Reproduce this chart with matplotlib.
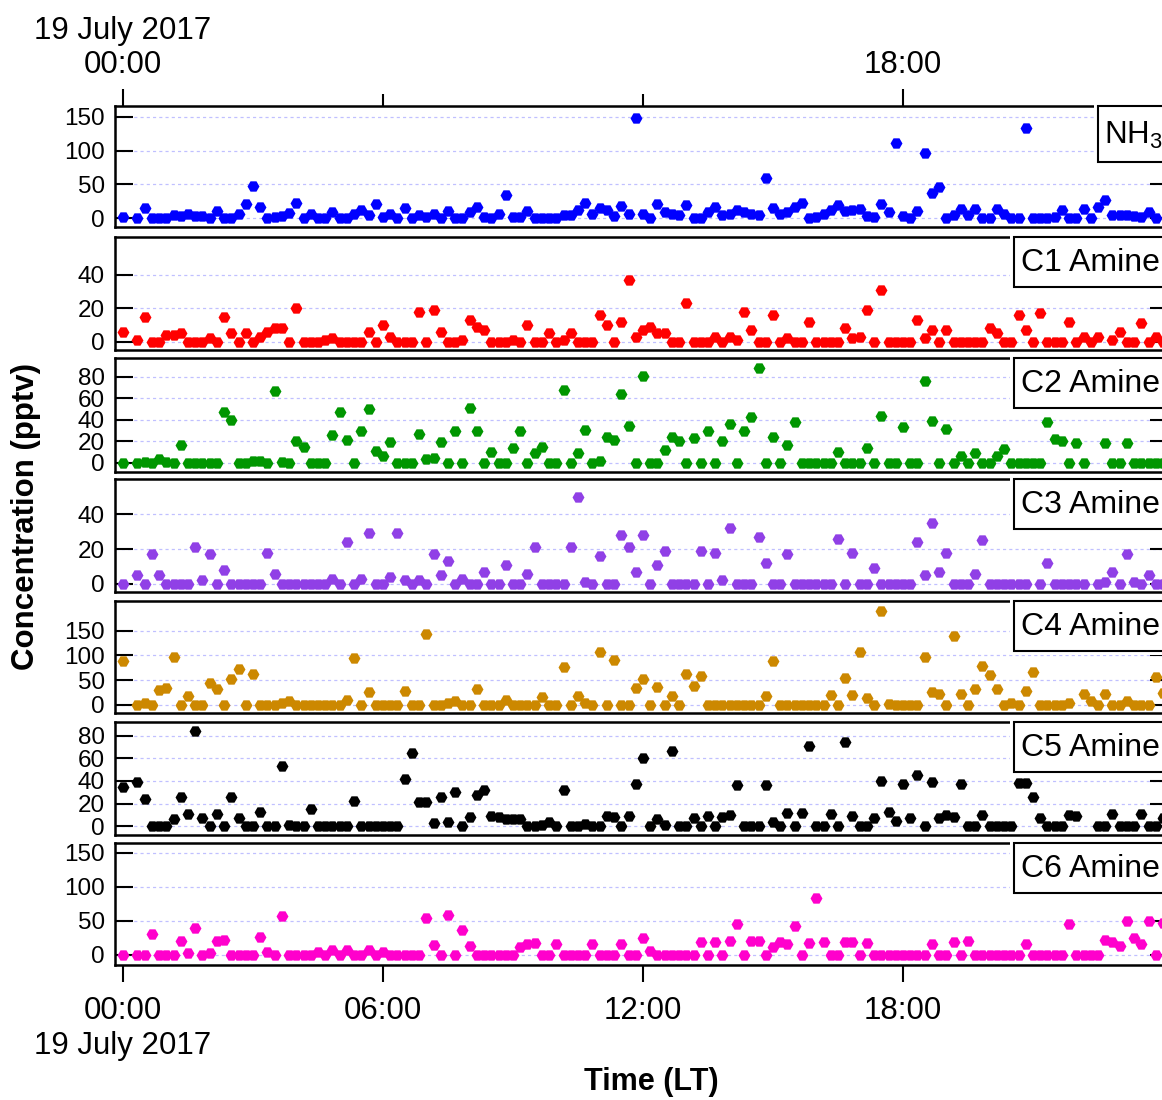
import numpy as np
import matplotlib
matplotlib.use("Agg")
import matplotlib.pyplot as plt
from matplotlib.patches import Rectangle

plt.rcParams['font.family'] = ['Liberation Sans', 'DejaVu Sans']
plt.rcParams['mathtext.fontset'] = 'custom'
plt.rcParams['mathtext.rm'] = 'Liberation Sans'
plt.rcParams['mathtext.it'] = 'Liberation Sans:italic'

nan = np.nan

# ---- data: concentrations (pptv) at 10-min steps from 00:00, 19 July 2017 ----
nh3 = [2, nan, 0, 15, 0, 0, 0, 5, 4, 6, 3, 4, 1, 11, 0, 0, 6, 21, 48, 17, 0, 2,
       3, 8, 22, 0, 7, 0, 0, 10, 0, 0, 6, 12, 5, 21, 2, 6, 0, 15, 0, 5,
       2, 6, 0, 11, 0, 0, 10, 16, 2, 0, 7, 35, 2, 2, 11, 0, 0, 0, 0, 5,
       5, 13, 22, 7, 15, 12, 3, 18, 6,
       148, 7, 1, 21, 9, 6, 5, 20, 0, 1, 9, 17, 5, 6, 12, 10, 6, 5, 60, 15,
       7, 9, 17, 22, 0, 2, 6, 12, 19, 11, 12, 14, 4, 2, 21, 9, 112, 4, 0, 11,
       97, 38, 47, 0, 5, 14, 5, 14, 0, 0, 14, 7, 0, 0, 134, 0, 0, 1, 2, 13,
       1, 1, 14, 0, 17, 27, 5, 5, 5, 4, 2, 10, 0]

c1 = [6, nan, 1, 15, 0, 0, 4, 4, 5, 0, 0, 0, 2, 0, 15, 5, 0, 5, 0, 3, 6,
      8, 8, 0, 20, 0, 0, 0, 1, 2, 0, 0, 0, 0, 6, 0, 10, 3, 0, 0, 0,
      18, 0, 19, 6, 0, 0, 1, 13, 9, 7, 0, 0, 0, 1, 0, 10, 0, 0, 5, 0,
      1, 5, 0, 0, 0, 16, 10, 0, 12,
      37, 3, 7, 9, 5, 5, 0, 0, 23, 0, 0, 0, 3, 0, 3, 1, 18, 7, 0, 0,
      16, 0, 2, 0, 0, 12, 0, 0, 0, 0, 8, 2, 3, 19, 0, 31, 0, 0, 0, 0,
      13, 2, 7, 0, 7, 0, 0, 0, 0, 0, 8, 5, 0, 0, 16, 7, 0, 17, 0, 0,
      0, 12, 0, 3, 0, 3, nan, 1, 6, 0, 0, 11, 0, 3, 0]

c2 = [0, nan, 0, 1, 0, 3, 1, 0, 16, 0, 0, 0, 0, 0, 47, 40, 0, 0, 2, 2, 0, 67,
      1, 0, 20, 15, 0, 0, 0, 26, 47, 21, 0, 29, 50, 11, 6, 19, 0, 0, 0, 27,
      3, 4, 19, 0, 29, 0, 51, 29, 0, 10, 0, 0, 14, 29, 0, 9, 15, 0, 0, 68,
      0, 9, 30, 0, 2, 24, 21, 64,
      34, 0, 81, 0, 0, 12, 24, 20, 0, 23, 0, 29, 0, 20, 36, 0, 29, 42, 88, 0,
      24, 0, 16, 38, 0, 0, 0, 0, 0, 10, 0, 0, 0, 14, 0, 43, 0, 0, 33, 0,
      0, 76, 39, 0, 31, 0, 6, 0, 9, 0, 0, 6, 13, 0, 0, 0, 0, 0, 38, 22,
      20, 0, 18, 0, nan, nan, 18, 0, 0, 18, 0, 0, 0, 0, 0]

c3 = [0, nan, 5, 0, 17, 5, 0, 0, 0, 0, 21, 2, 17, 0, 8, 0, 0, 0, 0, 0, 18, 6,
      0, 0, 0, 0, 0, 0, 0, 3, 0, 24, 0, 3, 29, 0, 0, 4, 29, 2, 0, 2,
      0, 17, 5, 13, 0, 3, 0, 0, 7, 0, 0, 11, 0, 0, 6, 21, 0, 0, 0, 0,
      21, 50, 1, 0, 16, 0, 0, 28,
      21, 7, 28, 0, 11, 19, 0, 0, 0, 0, 19, 0, 18, 2, 32, 0, 0, 0, 27, 12,
      0, 0, 17, 0, 0, 0, 0, 0, 0, 26, 0, 18, 0, 0, 9, 0, 0, 0, 0, 0,
      24, 5, 35, 7, 18, 0, 0, 0, 6, 25, 0, 0, 0, 0, 0, 0, nan, 0, 12, 0,
      0, 0, 0, 0, nan, 0, 1, 7, 0, 17, 1, 0, 5, 0, 0]

c4 = [89, nan, 0, 5, 0, 30, 35, 96, 0, 18, 0, 0, 44, 32, 0, 52, 72, 0, 63, 0, 0, 0,
      3, 9, 0, 0, 0, 0, 0, 0, 0, 11, 94, 0, 27, 0, 0, 0, 0, 29, 0, 0,
      143, 0, 0, 3, 8, 0, 0, 32, 0, 0, 0, 10, 0, 0, 0, 0, 17, 0, 0, 77,
      0, 19, 3, 0, 108, 0, 91, 0,
      0, 34, 52, 0, 36, 0, 19, 0, 63, 39, 59, 0, 0, 0, 0, 0, 0, 0, 0, 19,
      89, 0, 0, 0, 0, 0, 0, 0, 20, 0, 55, 20, 108, 15, 0, 190, 1, 0, 0, 0,
      0, 96, 27, 22, 0, 139, 22, 0, 32, 79, 61, 32, 0, 5, 0, 28, 67, 0, 0, 0,
      0, 5, nan, 22, 9, 0, 22, 0, 0, 9, 0, 0, 0, 56, 24]

c5 = [35, nan, 39, 24, 0, 0, 0, 6, 26, 11, 84, 7, 0, 11, 0, 26, 7, 0, 0, 13, 0, 0,
      53, 1, 0, 0, 15, 0, 0, 0, 0, 0, 22, 0, 0, 0, 0, 0, 0, 42, 65, 21,
      21, 3, 26, 4, 30, 0, 8, 28, 32, 9, 8, 6, 6, 6, 0, 0, 1, 4, 0, 32,
      0, 0, 2, 0, 0, 9, 8, 0,
      9, 37, 60, 0, 6, 1, 66, 0, 0, 7, 0, 9, 0, 8, 10, 36, 0, 0, 0, 36,
      4, 0, 12, 0, 12, 71, 0, 0, 11, 0, 74, 9, 0, 0, 7, 40, 13, 5, 37, 7,
      45, 0, 39, 7, 10, 8, 37, 0, 0, 10, 0, 0, 0, 0, 38, 38, 26, 7, 0, 0,
      0, 10, 9, nan, nan, 0, 0, 11, 0, 0, 0, 11, 0, 0, 7]

c6 = [0, nan, 0, 0, 30, 0, 0, 0, 20, 2, 40, 0, 2, 20, 21, 0, 0, 0, 0, 26, 4, 0,
      57, 0, 0, 0, 0, 4, 0, 7, 0, 7, 0, 0, 7, 0, 4, 0, 0, 0, 0, 0,
      54, 15, 0, 58, 0, 37, 13, 0, 0, 0, 0, 0, 0, 12, 16, 17, 0, 0, 16, 0,
      0, 0, 0, 16, 0, 0, 0, 16,
      0, 0, 24, 5, 0, 0, 0, 0, 0, 0, 19, 0, 19, 0, 20, 46, 0, 20, 20, 0,
      12, 19, 16, 43, 0, 17, 83, 19, 0, 0, 19, 19, 0, 17, 0, 0, 0, 0, 0, 0,
      0, 0, 16, 0, 0, 19, 0, 20, 0, 0, 0, 0, 0, 0, 0, 16, 0, 0, 0, 0,
      0, 46, 0, 0, 0, 0, 21, 19, 13, 50, 24, 16, 50, 0, 47]

series = [nh3, c1, c2, c3, c4, c5, c6]
labels = ['NH$_3$', 'C1 Amine', 'C2 Amine', 'C3 Amine', 'C4 Amine', 'C5 Amine', 'C6 Amine']
colors = ['#0000ff', '#ff0000', '#009600', '#9040e6', '#cc8800', '#000000', '#ff00cc']
yticks = [[0, 50, 100, 150], [0, 20, 40], [0, 20, 40, 60, 80], [0, 20, 40],
          [0, 50, 100, 150], [0, 20, 40, 60, 80], [0, 50, 100, 150]]
ylims = [(-12.4, 166), (-5, 62.6), (-8.4, 97), (-4.8, 60.3),
         (-16.8, 210.6), (-8, 92), (-14.7, 164.7)]
step_hours = 1 / 6.0
xticks = [0, 6, 12, 18]
xticklabels_bottom = ['00:00\n19 July 2017', '06:00', '12:00', '18:00']

# ---- layout (pixels) ----
W, H = 1162, 1100
fig = plt.figure(figsize=(W / 100, H / 100), dpi=100)
panel_px = [(106, 226.7), (237.3, 350), (358.3, 471.7), (479, 592.3),
            (600.7, 713.3), (722, 835.3), (843, 964.7)]
left_px, right_px = 114.5, 1168
x0_px, px_per_h = 123, 43.333
xlim = ((left_px - x0_px) / px_per_h, (right_px - x0_px) / px_per_h)

axes = []
for i, (top, bot) in enumerate(panel_px):
    ax = fig.add_axes([left_px / W, 1 - bot / H, (right_px - left_px) / W, (bot - top) / H])
    vals = np.array(series[i], dtype=float)
    t = np.arange(len(vals)) * step_hours
    ax.plot(t, vals, linestyle='none', marker='H', ms=8.6, mew=0, color=colors[i], zorder=3)
    ax.set_xlim(*xlim)
    ax.set_ylim(*ylims[i])
    ax.set_yticks(yticks[i])
    ax.yaxis.grid(True, color='#c0c0ff', linestyle=(0, (2.5, 2.5)), linewidth=0.9)
    ax.set_axisbelow(True)
    ax.tick_params(axis='y', direction='in', length=13, width=1.5, left=True, right=True,
                   labelsize=17.5, pad=7)
    for sp in ax.spines.values():
        sp.set_linewidth(1.8)
    ax.set_xticks(xticks)
    if i == 0:
        ax.xaxis.set_ticks_position('top')
        ax.set_xticks([0, 18])
        ax.set_xticklabels(['19 July 2017\n00:00', '18:00'])
        ax.set_xticks([6, 12], minor=True)
        ax.tick_params(axis='x', which='major', direction='out', length=12.5, width=1.5,
                       labelsize=22.5, pad=6, top=True, bottom=False,
                       labeltop=True, labelbottom=False)
        ax.tick_params(axis='x', which='minor', direction='out', length=8.5, width=1.5,
                       top=True, bottom=False)
    elif i == len(panel_px) - 1:
        ax.set_xticklabels(xticklabels_bottom)
        ax.tick_params(axis='x', direction='out', length=12.5, width=1.5,
                       labelsize=22.5, pad=10, top=False, bottom=True)
    else:
        ax.tick_params(axis='x', which='both', bottom=False, top=False,
                       labelbottom=False, labeltop=False)
    axes.append(ax)

# ---- label boxes (partly beyond the right edge) ----
for i, (top, bot) in enumerate(panel_px):
    if i == 0:
        bl, bh, tx, fs = 1098, 56, 1104, 22.5
    else:
        bl, bh, tx, fs = 1014, 50, 1021, 23
    pad = 4
    fig.add_artist(Rectangle(((bl - pad) / W, 1 - (top + bh + pad) / H),
                             (1300 - bl) / W, (bh + 2 * pad) / H,
                             transform=fig.transFigure, facecolor='white',
                             edgecolor='none', zorder=5))
    fig.add_artist(Rectangle((bl / W, 1 - (top + bh) / H), (1300 - bl) / W, bh / H,
                             transform=fig.transFigure, facecolor='white',
                             edgecolor='black', linewidth=1.5, zorder=6))
    fig.text(tx / W, 1 - (top + bh / 2 + 1) / H, labels[i], fontsize=fs,
             ha='left', va='center', zorder=7)

fig.text(26 / W, 1 - 516 / H, 'Concentration (pptv)', rotation=90, fontsize=22.5,
         fontweight='bold', ha='center', va='center')
fig.text(651 / W, 1 - 1082 / H, 'Time (LT)', fontsize=22, fontweight='bold',
         ha='center', va='center')

fig.savefig('out.png', dpi=100)
